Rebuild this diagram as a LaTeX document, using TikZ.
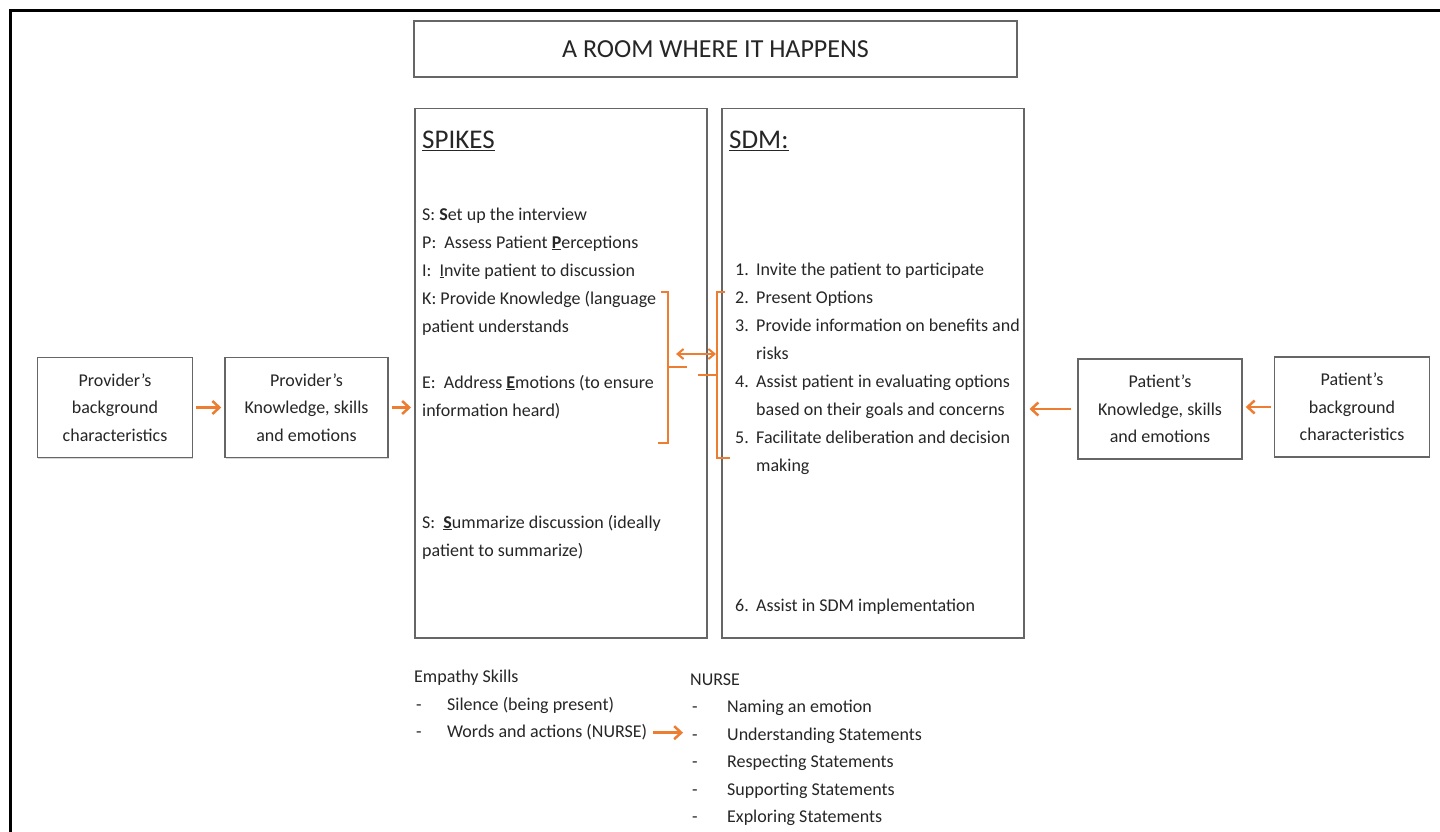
\documentclass[tikz,border=0pt]{standalone}
\usepackage{fontspec}
\setmainfont{Carlito}
\usetikzlibrary{arrows.meta,calc,shadows}
\definecolor{orange1}{HTML}{ED7D31}
\definecolor{boxgray}{HTML}{666666}
\definecolor{txtgray}{HTML}{262626}
\tikzset{
  box/.style={draw=boxgray, line width=1.5pt, fill=white, inner sep=0pt,
    drop shadow={shadow xshift=0.8pt, shadow yshift=-1.3pt, opacity=0.3}},
  smallbox/.style={box, minimum height=100pt, align=center, text=txtgray,
    font=\fontsize{18}{27.5}\selectfont},
  txt/.style={anchor=base west, inner sep=0pt, text=txtgray, font=\fontsize{18}{22}\selectfont},
  head/.style={anchor=base west, inner sep=0pt, text=txtgray, font=\fontsize{27}{30}\selectfont},
  arr/.style={-{Straight Barb[length=7pt, width=13pt, line width=2.5pt]}, draw=orange1, line width=2.5pt},
  darr/.style={{Straight Barb[length=6pt, width=10pt, line width=2pt]}-{Straight Barb[length=6pt, width=10pt, line width=2pt]}, draw=orange1, line width=2pt},
  brk/.style={draw=orange1, line width=2pt},
  frame/.style={draw=black, line width=3pt},
}
\begin{document}
\begin{tikzpicture}[x=1pt,y=-1pt]
\useasboundingbox (0,0) rectangle (1440,832);
\fill[white] (0,0) rectangle (1440,832);
\draw[frame] (10,832) -- (10,11) -- (1440,11);

% title
\node[box, minimum width=603pt, minimum height=56pt, text=txtgray,
  font=\fontsize{26}{30}\selectfont] (title) at (715.5,49) {A ROOM WHERE IT HAPPENS};

% main boxes
\node[box, minimum width=292pt, minimum height=529pt, anchor=north west] (spikes) at (414,108) {};
\node[box, minimum width=302pt, minimum height=529pt, anchor=north west] (sdm) at (721,108) {};

% side boxes
\node[smallbox, minimum width=155pt] (pbg) at (115,407.5) {Provider’s\\background\\characteristics};
\node[smallbox, minimum width=163pt] (pkn) at (306.5,407.5) {Provider’s\\Knowledge, skills\\and emotions};
\node[smallbox, minimum width=164pt] (tkn) at (1160,409) {Patient’s\\Knowledge, skills\\and emotions};
\node[smallbox, minimum width=155pt] (tbg) at (1352,407) {Patient’s\\background\\characteristics};

% arrows between side boxes
\draw[arr] ([xshift=3pt]pbg.east) -- ([xshift=-3pt]pkn.west);
\draw[arr] ([xshift=3pt]pkn.east) -- ([xshift=-3pt]pkn.east -| spikes.west);
\draw[arr] ([xshift=-3pt]tbg.west) -- ([xshift=3pt]tbg.west -| tkn.east);
\draw[arr] ([xshift=-6pt]tkn.west) -- ([xshift=5pt]tkn.west -| sdm.east);

% SPIKES text
\node[head] (sph) at (422,149) {\underline{SPIKES}};
\node[txt] (s1) at (422,220) {S: \textbf{S}et up the interview};
\node[txt] (s2) at (422,248) {P:\ \ Assess Patient \underline{\textbf{P}}erceptions};
\node[txt] (s3) at (422,276) {I:\ \ \underline{I}nvite patient to discussion};
\node[txt] (s4) at (422,304) {K: Provide Knowledge (language};
\node[txt] (s5) at (422,332) {patient understands};
\node[txt] (s6) at (422,388) {E:\ \ Address \underline{\textbf{E}}motions (to ensure};
\node[txt] (s7) at (422,416) {information heard)};
\node[txt] (s8) at (422,528) {S:\ \ \underline{\textbf{S}}ummarize discussion (ideally};
\node[txt] (s9) at (422,556) {patient to summarize)};

% SDM text
\node[head] (sdh) at (729,149) {\underline{SDM:}};
\node[txt] (n1) at (735,275) {1.};
\node[txt] (d1) at (756,275) {Invite the patient to participate};
\node[txt] (n2) at (735,303) {2.};
\node[txt] (d2) at (756,303) {Present Options};
\node[txt] (n3) at (735,331) {3.};
\node[txt] (d3) at (756,331) {Provide information on benefits and};
\node[txt] (d3b) at (756,359) {risks};
\node[txt] (n4) at (735,387) {4.};
\node[txt] (d4) at (756,387) {Assist patient in evaluating options};
\node[txt] (d4b) at (756,415) {based on their goals and concerns};
\node[txt] (n5) at (735,443) {5.};
\node[txt] (d5) at (756,443) {Facilitate deliberation and decision};
\node[txt] (d5b) at (756,471) {making};
\node[txt] (n6) at (735,611) {6.};
\node[txt] (d6) at (756,611) {Assist in SDM implementation};

% brackets
\coordinate (lbm) at (687,367);
\coordinate (rbm) at (698,375);
\draw[brk] (661,292) -- (668,292) -- (668,443) -- (658,443);
\draw[brk] (668,367) -- (lbm);
\draw[brk] (725,292) -- (717,292) -- (717,458) -- (730,458);
\draw[brk] (717,375) -- (rbm);
\coordinate (da) at (676,354);
\coordinate (db) at (716,354);
\draw[darr] (da) -- (db);

% empathy text
\node[txt] (e0) at (414,682) {Empathy Skills};
\node[txt] (e1d) at (416,710) {-};
\node[txt] (e1) at (447,710) {Silence (being present)};
\node[txt] (e2d) at (416,737) {-};
\node[txt] (e2) at (447,737) {Words and actions (NURSE)};

% NURSE text
\node[txt] (r0) at (690,685) {NURSE};
\node[txt] (r1d) at (692,712) {-};
\node[txt] (r1) at (727,712) {Naming an emotion};
\node[txt] (r2d) at (692,740) {-};
\node[txt] (r2) at (727,740) {Understanding Statements};
\node[txt] (r3d) at (692,767) {-};
\node[txt] (r3) at (727,767) {Respecting Statements};
\node[txt] (r4d) at (692,795) {-};
\node[txt] (r4) at (727,795) {Supporting Statements};
\node[txt] (r5d) at (692,822) {-};
\node[txt] (r5) at (727,822) {Exploring Statements};

\draw[arr] ([xshift=6pt,yshift=-1pt]e2.east) -- ([xshift=-9pt,yshift=-1pt]e2.east -| r2d.west);
\end{tikzpicture}
\end{document}
